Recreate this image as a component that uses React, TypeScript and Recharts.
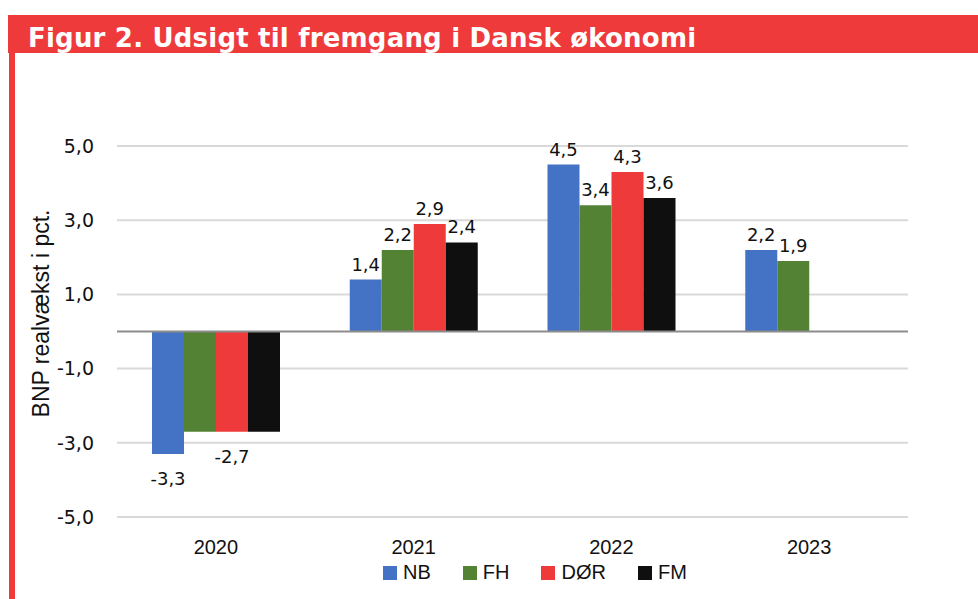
import React from 'react'
import {
  BarChart,
  Bar,
  XAxis,
  YAxis,
  CartesianGrid,
  ReferenceLine,
  LabelList,
  Label
} from 'recharts'

const categories = ['2020', '2021', '2022', '2023']
const nb = [-3.3, 1.4, 4.5, 2.2]
const fh = [-2.7, 2.2, 3.4, 1.9]
const dor = [-2.7, 2.9, 4.3, null]
const fm = [-2.7, 2.4, 3.6, null]
const yTicks = [-5, -3, -1, 1, 3, 5]

// Excel hid the overlapping -2,7 labels for FH and FM in 2020
const series = [
  { key: 'NB', values: nb, color: '#4472C4', hiddenLabels: [] as string[] },
  { key: 'FH', values: fh, color: '#548235', hiddenLabels: ['2020'] },
  { key: 'DØR', values: dor, color: '#EE3A3A', hiddenLabels: [] as string[] },
  { key: 'FM', values: fm, color: '#0F0F0F', hiddenLabels: ['2020'] }
]

const RED = '#EE3A3A'
const TICK_FONT = { fontFamily: 'DejaVu Sans', fontSize: 19, fill: '#111' }

const fmt = (v: number) => v.toFixed(1).replace('.', ',')

const makeLabel = (hidden: string[]) => (p: any) => {
  const { x, y, width, height, value, index } = p
  if (value == null || hidden.includes(categories[index])) return null
  const top = Math.min(y, y + height)
  const bottom = Math.max(y, y + height)
  const cx = x + width / 2
  const ty = value >= 0 ? top - 9 : bottom + 31
  return (
    <text x={cx} y={ty} textAnchor="middle" fontFamily="DejaVu Sans" fontSize={18} fill="#111">
      {fmt(value)}
    </text>
  )
}

const YLabel = (p: any) => {
  const vb = p.viewBox
  const x = vb.x + 29
  const y = vb.y + vb.height / 2 - 18
  return (
    <text x={x} y={y} textAnchor="middle" transform={`rotate(-90 ${x} ${y})`}
      fontFamily="Liberation Sans" fontSize={23} fill="#111">
      BNP realvækst i pct.
    </text>
  )
}

export default function App() {
  const data = categories.map((c, i) => {
    const row: any = { name: c }
    series.forEach(s => { row[s.key] = s.values[i] })
    return row
  })

  return (
    <div style={{ position: 'absolute', left: 0, top: 0, width: 978, height: 599, background: '#fff', overflow: 'hidden' }}>
      <div style={{ position: 'absolute', left: 8, top: 15, width: 970, height: 38, background: RED }}>
        <div style={{
          position: 'absolute', left: 20, top: 8, color: '#fff', fontFamily: 'DejaVu Sans',
          fontWeight: 'bold', fontSize: 26, letterSpacing: 0.2, whiteSpace: 'nowrap', lineHeight: 'normal'
        }}>
          Figur 2. Udsigt til fremgang i Dansk økonomi
        </div>
      </div>
      <div style={{ position: 'absolute', left: 9, top: 15, width: 6, height: 584, background: RED }} />

      <div style={{ position: 'absolute', left: 0, top: 0 }}>
        <BarChart
          width={978}
          height={599}
          data={data}
          margin={{ top: 146, right: 0, bottom: 52, left: 20 }}
          barCategoryGap={35}
          barGap={0}
        >
          <CartesianGrid vertical={false} stroke="#D9D9D9" strokeWidth={2} />
          <XAxis
            dataKey="name"
            axisLine={false}
            tickLine={false}
            tickMargin={17}
            height={30}
            tick={{ fontFamily: 'Liberation Sans', fontSize: 20, fill: '#111' }}
          />
          <YAxis
            width={97}
            domain={[-5, 5]}
            ticks={yTicks}
            axisLine={false}
            tickLine={false}
            tickMargin={17}
            tickFormatter={fmt}
            tick={TICK_FONT}
          >
            <Label content={YLabel} />
          </YAxis>
          <YAxis
            yAxisId="right"
            orientation="right"
            width={70}
            domain={[-5, 5]}
            ticks={yTicks}
            axisLine={false}
            tickLine={false}
            tickMargin={17}
            tickFormatter={fmt}
            tick={{ ...TICK_FONT, textAnchor: 'start' }}
          />
          <ReferenceLine y={0} stroke="#8C8C8C" strokeWidth={2} />
          {series.map(s => (
            <Bar key={s.key} dataKey={s.key} fill={s.color} isAnimationActive={false}>
              <LabelList dataKey={s.key} content={makeLabel(s.hiddenLabels)} />
            </Bar>
          ))}
        </BarChart>
      </div>

      <div style={{
        position: 'absolute', left: 383, top: 561, display: 'flex', alignItems: 'center',
        fontFamily: 'Liberation Sans', fontSize: 20, color: '#111'
      }}>
        {series.map(s => (
          <div key={s.key} style={{ display: 'flex', alignItems: 'center', marginRight: 32 }}>
            <span style={{ width: 14, height: 14, background: s.color, marginRight: 6, display: 'inline-block' }} />
            <span>{s.key}</span>
          </div>
        ))}
      </div>
    </div>
  )
}
